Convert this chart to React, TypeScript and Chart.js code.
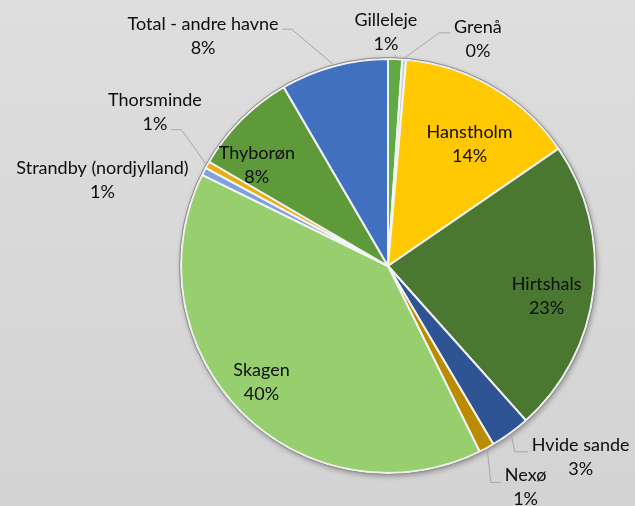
import React, { useEffect, useRef } from "react";
import { Chart, registerables } from "chart.js";

Chart.register(...registerables);

// ---- data ----
const categories = [
  "Gilleleje",
  "Grenå",
  "Hanstholm",
  "Hirtshals",
  "Hvide sande",
  "Nexø",
  "Skagen",
  "Strandby (nordjylland)",
  "Thorsminde",
  "Thyborøn",
  "Total - andre havne",
];
const shares = [1.1, 0.3, 14.0, 23.0, 3.1, 1.2, 39.55, 0.6, 0.55, 8.2, 8.4];

const sliceColors = [
  "#5FAA45",
  "#C9C9C9",
  "#FFC800",
  "#4B7831",
  "#2E5494",
  "#BC8C00",
  "#97CF6F",
  "#7FA0DA",
  "#E8AE12",
  "#5F9A3A",
  "#4270C0",
];

// label placement: factor of radius along (slice mid angle + nudge degrees)
type Place = {
  factor: number;
  nudge: number;
  leader: "none" | "left" | "right" | "down";
  dy?: number;
  len?: number;
  attachLine?: number;
};
const labelPlacement: Place[] = [
  { factor: 1.13, nudge: -2.5, leader: "down" },
  { factor: 1.18, nudge: 17.1, leader: "left", dy: -6, len: 11 },
  { factor: 0.71, nudge: 3.5, leader: "none" },
  { factor: 0.78, nudge: 4, leader: "none" },
  { factor: 1.31, nudge: -9.1, leader: "left", dy: -5, len: 13 },
  { factor: 1.26, nudge: -3.4, leader: "left", dy: -5, len: 10 },
  { factor: 0.83, nudge: 2.5, leader: "none" },
  { factor: 1.44, nudge: -10.5, leader: "none" },
  { factor: 1.35, nudge: 4.25, leader: "right", dy: 18, len: 10, attachLine: 1 },
  { factor: 0.8, nudge: -7.4, leader: "none" },
  { factor: 1.425, nudge: -23.7, leader: "right", dy: -7, len: 9 },
];

const FONT = "18px Lato";
const LINE_H = 24;

const shadowPlugin = {
  id: "pieShadow",
  beforeDatasetsDraw(chart: any) {
    const meta = chart.getDatasetMeta(0);
    const arc = meta.data[0];
    if (!arc) return;
    const { x, y, outerRadius } = arc.getProps(["x", "y", "outerRadius"], true);
    const ctx = chart.ctx;
    ctx.save();
    ctx.shadowColor = "rgba(0,0,0,0.3)";
    ctx.shadowBlur = 5;
    ctx.shadowOffsetX = 1;
    ctx.shadowOffsetY = 2;
    ctx.beginPath();
    ctx.arc(x, y, outerRadius + 1.5, 0, Math.PI * 2);
    ctx.fillStyle = "#B8B8B8";
    ctx.fill();
    ctx.restore();
  },
};

const labelPlugin = {
  id: "pieLabels",
  afterDatasetsDraw(chart: any) {
    const ctx = chart.ctx;
    const meta = chart.getDatasetMeta(0);
    const total = shares.reduce((a, b) => a + b, 0);
    const first = meta.data[0];
    if (!first) return;
    // rim
    {
      const { x, y, outerRadius } = first.getProps(["x", "y", "outerRadius"], true);
      ctx.save();
      ctx.beginPath();
      ctx.arc(x, y, outerRadius, 0, Math.PI * 2);
      ctx.strokeStyle = "rgba(235,235,235,0.9)";
      ctx.lineWidth = 1.2;
      ctx.stroke();
      ctx.beginPath();
      ctx.arc(x, y, outerRadius + 1.5, 0, Math.PI * 2);
      ctx.strokeStyle = "#8E8E8E";
      ctx.lineWidth = 1;
      ctx.stroke();
      ctx.restore();
    }
    ctx.save();
    ctx.font = FONT;
    ctx.textAlign = "center";
    ctx.textBaseline = "middle";
    meta.data.forEach((arc: any, i: number) => {
      const { x, y, startAngle, endAngle, outerRadius } = arc.getProps(
        ["x", "y", "startAngle", "endAngle", "outerRadius"],
        true
      );
      const mid = (startAngle + endAngle) / 2;
      const p = labelPlacement[i];
      const a = mid + (p.nudge * Math.PI) / 180;
      const cx = x + Math.cos(a) * outerRadius * p.factor;
      const cy = y + Math.sin(a) * outerRadius * p.factor;
      const lines = [categories[i], Math.round((shares[i] / total) * 100) + "%"];
      const w =
        p.attachLine !== undefined
          ? ctx.measureText(lines[p.attachLine]).width
          : Math.max(...lines.map((t) => ctx.measureText(t).width));
      const ex = x + Math.cos(mid) * (outerRadius + 1.5);
      const ey = y + Math.sin(mid) * (outerRadius + 1.5);
      ctx.strokeStyle = "#A6A6A6";
      ctx.lineWidth = 1;
      if (p.leader === "left" || p.leader === "right") {
        const sgn = p.leader === "left" ? -1 : 1;
        const ax = cx + sgn * (w / 2 + 4);
        const ay = cy + (p.dy || 0);
        const bx = ax + sgn * (p.len || 10);
        ctx.beginPath();
        ctx.moveTo(ax, ay);
        ctx.lineTo(bx, ay);
        ctx.lineTo(ex, ey);
        ctx.stroke();
      } else if (p.leader === "down") {
        ctx.beginPath();
        ctx.moveTo(ex, cy + LINE_H - 1);
        ctx.lineTo(ex, ey);
        ctx.stroke();
      }
      ctx.fillStyle = "#0D0D0D";
      lines.forEach((t, k) => ctx.fillText(t, cx, cy + (k - 0.5) * LINE_H));
    });
    ctx.restore();
  },
};

export default function App() {
  const ref = useRef<HTMLCanvasElement | null>(null);
  useEffect(() => {
    if (!ref.current) return;
    const chart = new Chart(ref.current, {
      type: "pie",
      data: {
        labels: categories,
        datasets: [
          {
            data: shares,
            backgroundColor: sliceColors,
            borderColor: "#F4F4F4",
            borderWidth: 2,
            hoverOffset: 0,
          },
        ],
      },
      options: {
        responsive: false,
        animation: false,
        devicePixelRatio: 1,
        events: [],
        layout: { padding: { left: 180, right: 39, top: 58, bottom: 32 } },
        plugins: {
          legend: { display: false },
          tooltip: { enabled: false },
        },
      },
      plugins: [shadowPlugin, labelPlugin],
    });
    return () => chart.destroy();
  }, []);
  return (
    <div
      style={{
        position: "fixed",
        left: 0,
        top: 0,
        width: 635,
        height: 506,
        background: "linear-gradient(#DEDEDE, #D3D3D3)",
      }}
    >
      <canvas ref={ref} width={635} height={506} style={{ display: "block" }} />
    </div>
  );
}
